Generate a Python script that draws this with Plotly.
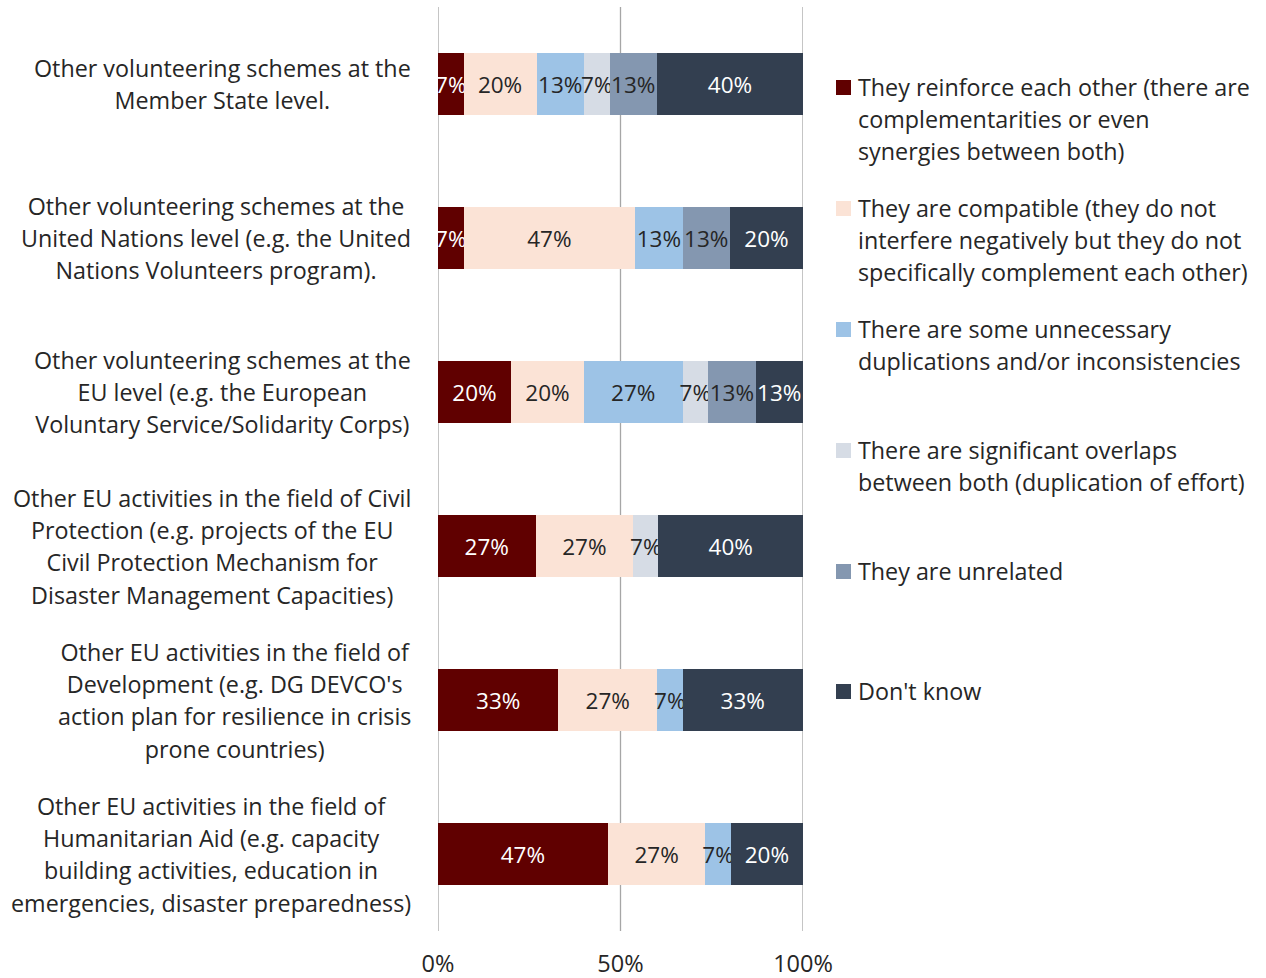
import plotly.graph_objects as go

# Survey categories (top to bottom), each split into display lines
categories = [
    "Member State level",
    "United Nations level",
    "EU level",
    "Civil Protection",
    "Development",
    "Humanitarian Aid",
]
category_lines = [
    ["Other volunteering schemes at the", "Member State level."],
    ["Other volunteering schemes at the", "United Nations level (e.g. the United",
     "Nations Volunteers program)."],
    ["Other volunteering schemes at the", "EU level (e.g. the European",
     "Voluntary Service/Solidarity Corps)"],
    ["Other EU activities in the field of Civil", "Protection (e.g. projects of the EU",
     "Civil Protection Mechanism for", "Disaster Management Capacities)"],
    ["Other EU activities in the field of", "Development (e.g. DG DEVCO's",
     "action plan for resilience in crisis", "prone countries)"],
    ["Other EU activities in the field of", "Humanitarian Aid (e.g. capacity",
     "building activities, education in", "emergencies, disaster preparedness)"],
]

# Answer options
series_names = [
    "They reinforce each other (there are complementarities or even synergies between both)",
    "They are compatible (they do not interfere negatively but they do not specifically complement each other)",
    "There are some unnecessary duplications and/or inconsistencies",
    "There are significant overlaps between both (duplication of effort)",
    "They are unrelated",
    "Don't know",
]
legend_lines = [
    ["They reinforce each other (there are", "complementarities or even",
     "synergies between both)"],
    ["They are compatible (they do not", "interfere negatively but they do not",
     "specifically complement each other)"],
    ["There are some unnecessary", "duplications and/or inconsistencies"],
    ["There are significant overlaps", "between both (duplication of effort)"],
    ["They are unrelated"],
    ["Don't know"],
]

# Shares of respondents (%) per answer, one list per answer, in category order
reinforce = [7, 7, 20, 27, 33, 47]
compatible = [20, 47, 20, 27, 27, 27]
duplications = [13, 13, 27, 0, 7, 7]
overlaps = [7, 0, 7, 7, 0, 0]
unrelated = [13, 13, 13, 0, 0, 0]
dont_know = [40, 20, 13, 40, 33, 20]
series_values = [reinforce, compatible, duplications, overlaps, unrelated, dont_know]

# x-axis ticks
tick_values = [0, 50, 100]
tick_labels = ["0%", "50%", "100%"]

colors = ["#600000", "#FBE3D6", "#9DC3E6", "#D6DCE5", "#8497B0", "#333F50"]
text_colors = ["#FFFFFF", "#262626", "#262626", "#262626", "#262626", "#FFFFFF"]

FONT = "Open Sans"
TEXT_SIZE = 23.3
W, H = 1266, 978
ML, MR, MT, MB = 438, 463, 7, 47
PW, PH = W - ML - MR, H - MT - MB


def px_x(px):
    return (px - ML) / PW


def px_y(py):
    return (H - MB - py) / PH


def stacked_lines(lines, glyph_size):
    # line spacing follows the annotation font size, glyphs use glyph_size
    return "<br>".join(
        f"<span style='font-size:{glyph_size}px'>{ln}</span>" for ln in lines
    )


fig = go.Figure()
for name, vals, col, tcol in zip(series_names, series_values, colors, text_colors):
    fig.add_trace(go.Bar(
        y=categories,
        x=vals,
        name=name,
        orientation="h",
        marker=dict(color=col, line=dict(width=0)),
        text=[f"{v}%" if v else "" for v in vals],
        texttemplate="%{text}",
        textposition="inside",
        insidetextanchor="middle",
        textangle=0,
        constraintext="none",
        textfont=dict(family=FONT, size=22.5, color=tcol),
        showlegend=False,
        cliponaxis=False,
    ))

annotations = []
# category labels: block right-aligned to the axis, lines centred inside it
for cat, lines in zip(categories, category_lines):
    annotations.append(dict(
        xref="paper", x=px_x(413), xanchor="right",
        yref="y", y=cat, yanchor="middle",
        text=stacked_lines(lines, TEXT_SIZE),
        align="center", showarrow=False,
        font=dict(family=FONT, size=24.8, color="#262626"),
    ))

# legend drawn beside the plot
legend_first_line = [87, 208, 329, 450, 571, 691]
LINE = 32.3
shapes = []
for lines, col, y0 in zip(legend_lines, colors, legend_first_line):
    n = len(lines)
    yc = y0 + (n - 1) * LINE / 2
    annotations.append(dict(
        xref="paper", x=px_x(856), xanchor="left",
        yref="paper", y=px_y(yc), yanchor="middle",
        text=stacked_lines(lines, TEXT_SIZE),
        align="left", showarrow=False,
        font=dict(family=FONT, size=24.8, color="#262626"),
    ))
    shapes.append(dict(
        type="rect", xref="paper", yref="paper",
        x0=px_x(836), x1=px_x(851), y0=px_y(y0 + 8), y1=px_y(y0 - 7),
        fillcolor=col, line=dict(width=0),
    ))

# vertical gridlines at each tick, including the plot edges
for v in tick_values:
    shapes.append(dict(
        type="line", xref="x", yref="paper",
        x0=v, x1=v, y0=0, y1=1,
        line=dict(color="#A6A6A6", width=1.3),
        layer="below",
    ))

fig.update_layout(
    width=W, height=H,
    margin=dict(l=ML, r=MR, t=MT, b=MB, pad=0, autoexpand=False),
    barmode="stack",
    barnorm="percent",
    bargap=0.6,
    paper_bgcolor="white",
    plot_bgcolor="white",
    font=dict(family=FONT, color="#262626"),
    annotations=annotations,
    shapes=shapes,
    showlegend=False,
    xaxis=dict(
        range=[0, 100],
        tickvals=tick_values,
        ticktext=tick_labels,
        showgrid=False,
        zeroline=False, showline=False, ticks="",
        ticklabelstandoff=16,
        automargin=False,
        tickfont=dict(family=FONT, size=23.5, color="#262626"),
        fixedrange=True,
    ),
    yaxis=dict(
        autorange="reversed",
        showticklabels=False,
        showgrid=False, zeroline=False, showline=False, ticks="",
        automargin=False,
        fixedrange=True,
    ),
)

fig.write_html("out.html")
